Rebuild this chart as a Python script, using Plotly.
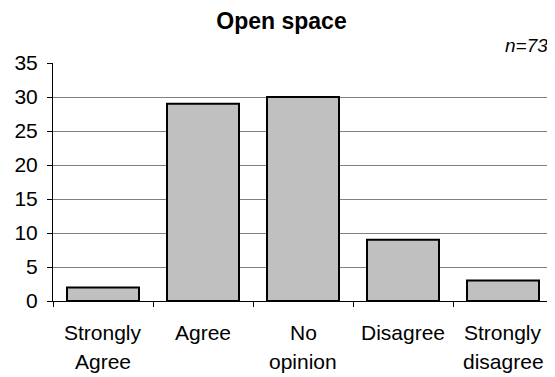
import plotly.graph_objects as go

categories = ["Strongly Agree", "Agree", "No opinion", "Disagree", "Strongly disagree"]
label_line1 = ["Strongly", "Agree", "No", "Disagree", "Strongly"]
label_line2 = ["Agree", "", "opinion", "", "disagree"]
values = [2, 29, 30, 9, 3]
y_ticks = [0, 5, 10, 15, 20, 25, 30, 35]
title_text = "Open space"
n_text = "n=73"

FONT = "Liberation Sans, Arial, sans-serif"
FS = 21

fig = go.Figure(
    go.Bar(
        x=categories,
        y=values,
        marker=dict(color="#C0C0C0", line=dict(color="#000000", width=2)),
        width=0.72,
    )
)

annotations = [
    dict(
        text="<i>" + n_text + "</i>",
        xref="paper",
        yref="paper",
        x=1,
        y=1,
        xanchor="right",
        yanchor="bottom",
        xshift=-3,
        yshift=5,
        showarrow=False,
        font=dict(family=FONT, size=19, color="#000000"),
    )
]
for cat, l1, l2 in zip(categories, label_line1, label_line2):
    for txt, shift in ((l1, -31), (l2, -60)):
        if txt:
            annotations.append(
                dict(
                    text=txt,
                    xref="x",
                    yref="paper",
                    x=cat,
                    y=0,
                    xanchor="center",
                    yanchor="middle",
                    yshift=shift,
                    showarrow=False,
                    font=dict(family=FONT, size=FS, color="#000000"),
                )
            )

fig.update_layout(
    width=547,
    height=369,
    margin=dict(l=45, r=2, t=55, b=76),
    paper_bgcolor="white",
    plot_bgcolor="white",
    showlegend=False,
    font=dict(family=FONT, size=FS, color="#000000"),
    title=dict(
        text="<b>" + title_text + "</b>",
        x=0.5,
        xanchor="center",
        xref="container",
        y=1 - 5 / 369,
        yanchor="top",
        font=dict(family=FONT, size=23, color="#000000"),
    ),
    annotations=annotations,
)

fig.update_xaxes(
    type="category",
    showline=True,
    linecolor="#000000",
    linewidth=1,
    ticks="outside",
    tickson="boundaries",
    ticklen=5,
    tickcolor="#000000",
    showgrid=False,
    showticklabels=False,
    automargin=False,
)

fig.update_yaxes(
    range=[0, 35],
    tickvals=y_ticks,
    showline=True,
    linecolor="#000000",
    linewidth=1,
    ticks="outside",
    ticklen=5,
    tickcolor="#000000",
    showgrid=True,
    gridcolor="#808080",
    gridwidth=1,
    zeroline=False,
    ticklabelstandoff=5,
    tickfont=dict(family=FONT, size=FS),
    automargin=False,
)

fig.write_html("out.html")
